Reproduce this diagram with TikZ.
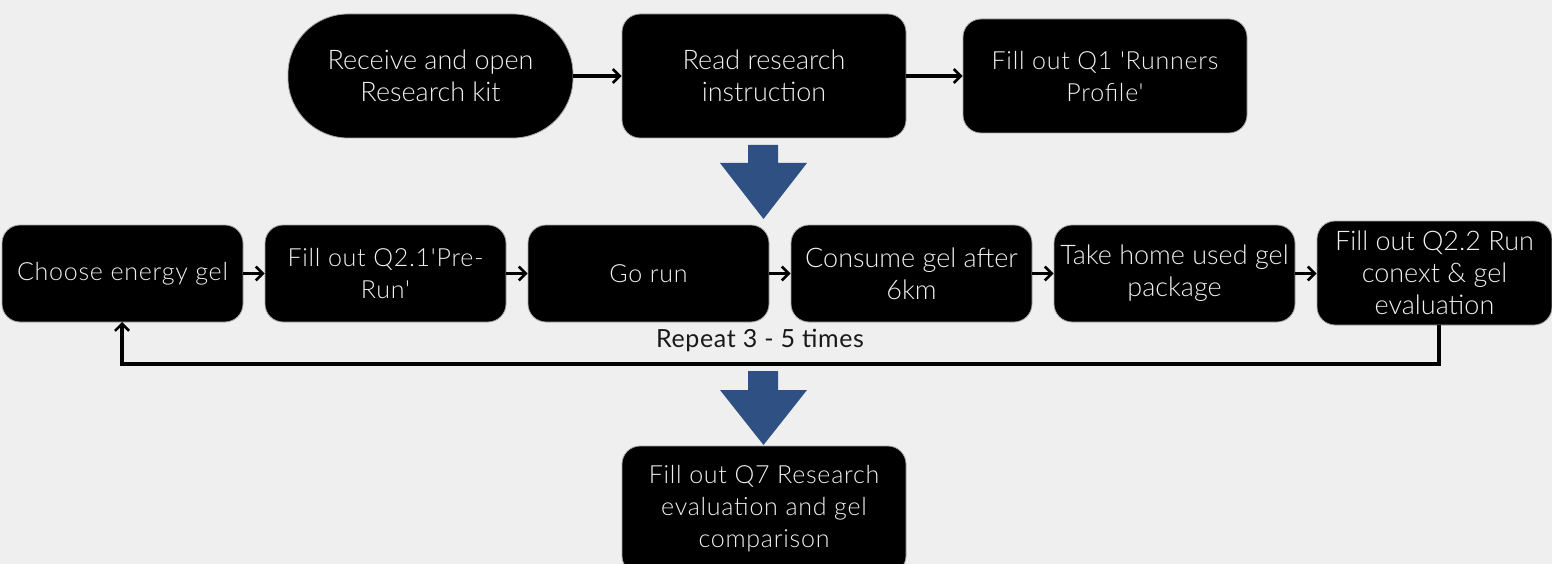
\documentclass[tikz,border=0pt]{standalone}
\usepackage{fontspec}
\setmainfont{Lato}[Ligatures=TeXOff]
\newfontfamily\widefont{Lato Light}[Ligatures=TeXOff, LetterSpace=3]
\newfontfamily\narrowfont{Lato Light}[Ligatures=TeXOff]
\newfontfamily\labelfont{Lato}[Ligatures=TeXOff, LetterSpace=2.5]
\usetikzlibrary{arrows.meta}
\definecolor{bg}{RGB}{239,239,239}
\definecolor{bluearr}{RGB}{47,80,131}
\definecolor{txt}{RGB}{240,240,240}
\tikzset{
  stepbox/.style={fill=black, draw=gray!70, line width=0.8pt, text=txt, align=center,
    rounded corners=18pt, font=\widefont\fontsize{25}{32}\selectfont, inner sep=0pt},
  narrowtxt/.style={font=\narrowfont\fontsize{27}{32}\selectfont},
  flow/.style={line width=3.5pt, -{Straight Barb[length=7pt,width=14pt,line width=2.6pt]}},
  bigarrow/.style={fill=bluearr, draw=none}
}
\begin{document}
\begin{tikzpicture}[x=1pt,y=-1pt]
\fill[bg] (0,0) rectangle (1552,564);
\useasboundingbox (0,0) rectangle (1552,564);
\begin{scope}
\clip (0,0) rectangle (1552,564);
% top row
\node[stepbox, narrowtxt, rounded corners=60pt, minimum width=285pt, minimum height=124pt] (A) at (430.5,76) {Receive and open\\Research kit};
\node[stepbox, narrowtxt, minimum width=284pt, minimum height=124pt] (B) at (764,76) {Read research\\instruction};
\node[stepbox, minimum width=284pt, minimum height=114pt] (C) at (1105,76) {Fill out Q1 'Runners\\Profile'};
% middle row
\node[stepbox, minimum width=241pt, minimum height=97pt] (D) at (122.5,273.5) {Choose energy gel};
\node[stepbox, minimum width=241pt, minimum height=97pt] (E) at (385.5,273.5) {Fill out Q2.1'Pre-\\Run'};
\node[stepbox, minimum width=241pt, minimum height=97pt] (F) at (648.5,273.5) {Go run};
\node[stepbox, narrowtxt, minimum width=241pt, minimum height=97pt] (G) at (911.5,273.5) {Consume gel after\\6km};
\node[stepbox, narrowtxt, minimum width=241pt, minimum height=97pt] (H) at (1174.5,273.5) {Take home used gel\\package};
\node[stepbox, narrowtxt, minimum width=235pt, minimum height=104pt] (I) at (1434.5,273) {Fill out Q2.2 Run\\conext \& gel\\evaluation};
% bottom
\node[stepbox, minimum width=284pt, minimum height=128pt] (J) at (764,510) {};
\node[text=txt, align=center, font=\widefont\fontsize{25}{32}\selectfont, inner sep=0pt] (Jt) at (764,509) {Fill out Q7 Research\\evaluation and gel\\comparison};
% connectors
\draw[flow] (A.east) -- (B.west);
\draw[flow] (B.east) -- (B.east -| C.west);
\draw[flow] (D.east) -- (E.west);
\draw[flow] (E.east) -- (F.west);
\draw[flow] (F.east) -- (G.west);
\draw[flow] (G.east) -- (H.west);
\draw[flow] (H.east) -- (H.east -| I.west);
\coordinate (Ib) at (1439,325);
\coordinate (Db) at (122,322);
\draw[flow] (Ib) -- (1439,364) -- (122,364) -- (Db);
\node[font=\labelfont\fontsize{25}{26}\selectfont, text=black!90, inner sep=0pt] (rep) at (760,340) {Repeat 3 - 5 times};
% big blue arrows
\fill[bigarrow] (748,145) -- (778,145) -- (778,163) -- (807,163) -- (763.5,219) -- (720,163) -- (748,163) -- cycle;
\fill[bigarrow] (748,371) -- (778,371) -- (778,390) -- (807,390) -- (763.5,445) -- (720,390) -- (748,390) -- cycle;
\end{scope}
\end{tikzpicture}
\end{document}
